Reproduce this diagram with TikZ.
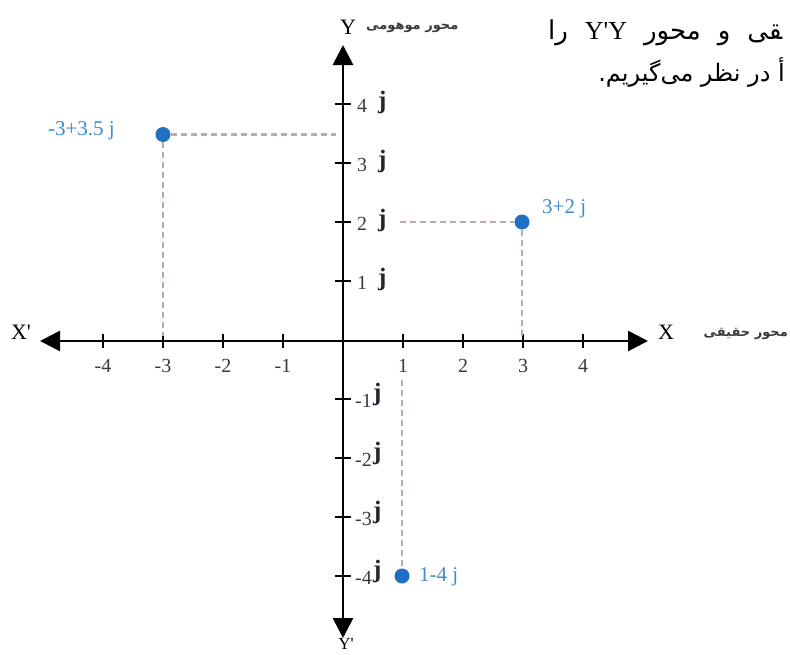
\documentclass[tikz,border=0pt]{standalone}
\usepackage{fontspec}
\setmainfont{Liberation Serif}
\newfontfamily\fa[Script=Arabic]{DejaVu Sans}
\TeXXeTstate=1
\usetikzlibrary{arrows.meta}
\definecolor{ptblue}{HTML}{1F6FC4}
\definecolor{lblue}{HTML}{3A8CD2}
\definecolor{guidec}{HTML}{B9ADA8}
\definecolor{numgray}{HTML}{3A3A3A}
\definecolor{jcol}{HTML}{2A2030}
\begin{document}
\begin{tikzpicture}[x=1pt,y=-1pt,
  axisline/.style={line width=2.8pt, {Triangle[length=20pt,width=20pt]}-{Triangle[length=20pt,width=20pt]}},
  tickmark/.style={line width=2pt},
  guide/.style={draw=guidec, line width=2.4pt, dash pattern=on 6pt off 4pt},
  dotc/.style={circle, fill=ptblue, minimum size=15pt, inner sep=0pt},
  ticklab/.style={font=\fontsize{20}{20}\selectfont, text=numgray, inner sep=0pt},
  jlab/.style={font=\bfseries\fontsize{25}{25}\selectfont, text=jcol, inner sep=0pt},
  ptlab/.style={font=\fontsize{21}{21}\selectfont, text=lblue, inner sep=0pt},
  axlab/.style={font=\fontsize{22}{22}\selectfont, inner sep=0pt},
  falab/.style={font=\fa\bfseries\fontsize{13}{14}\selectfont, text=numgray, inner sep=0pt},
  para/.style={font=\fa\fontsize{26}{26}\selectfont, inner sep=0pt, anchor=west}
]
\useasboundingbox (0,0) rectangle (790,654);

% axes
\coordinate (O) at (343,341);
\coordinate (xl) at (40,341);
\coordinate (xr) at (648,341);
\coordinate (yt) at (343,45);
\coordinate (yb) at (343,638);
\draw[axisline] (xl) -- (xr);
\draw[axisline] (yb) -- (yt);

% x ticks
\foreach \k in {-4,-3,-2,-1,1,2,3,4}{
  \draw[tickmark] ({343+60*\k},334) -- ({343+60*\k},348);
  \node[ticklab] (xt\k) at ({343+60*\k},366) {\k};
}
% y ticks
\foreach \k in {4,3,2,1}{
  \draw[tickmark] (335,{340-59*\k}) -- (351,{340-59*\k});
  \node[ticklab, anchor=west] (yn\k) at (357,{342-59*\k}) {\k};
  \node[jlab, anchor=west] (yj\k) at (378,{338-59*\k}) {j};
}
\foreach \k in {-1,-2,-3,-4}{
  \draw[tickmark] (335,{340-59*\k}) -- (351,{340-59*\k});
  \node[ticklab, anchor=west] (yn\k) at (355,{342-59*\k}) {\k};
}
\node[jlab, anchor=west] (yjm1) at (373,394) {j};
\node[jlab, anchor=west] (yjm2) at (373,453) {j};
\node[jlab, anchor=west] (yjm3) at (373,512) {j};
\node[jlab, anchor=west] (yjm4) at (373,571) {j};

% axis labels
\node[axlab] (Xp) at (21,332) {X\textquotesingle};
\node[axlab] (X) at (666,332) {X};
\node[falab, anchor=east] (real) at (788,334) {\beginR محور حقیقی\endR};
\node[axlab] (Y) at (348,27) {Y};
\node[falab, anchor=west] (imag) at (366,28) {\beginR محور موهومی\endR};
\node[axlab, font=\fontsize{17}{17}\selectfont] (Yp) at (346,644) {Y\textquotesingle};

% points
\node[dotc] (A) at (163,134.5) {};
\node[dotc] (B) at (522,222) {};
\node[dotc] (C) at (402,576) {};
\node[ptlab, anchor=east] (Al) at (115,131) {-3+3.5 j};
\node[ptlab, anchor=west] (Bl) at (542,209) {3+2 j};
\node[ptlab, anchor=west] (Cl) at (419,577) {1-4 j};

% guides
\coordinate (Ay) at (336,134.5);
\coordinate (Ax) at (163,336);
\coordinate (By) at (400,222);
\coordinate (Bx) at (522,336);
\coordinate (Cx) at (402,380);
\draw[guide] (A) -- (Ay);
\draw[guide] (A) -- (Ax);
\draw[guide] (By) -- (B);
\draw[guide] (B) -- (Bx);
\draw[guide] (Cx) -- (C);

% paragraph (visible part only)
\node[para] (p1) at (548,33) {\hbox to 234pt{\spaceskip=9pt plus 40pt\relax\beginR ^^^^200dقی و محور \beginL{\rmfamily Y\textquotesingle Y}\endL{} را\endR}};
\node[para, anchor=east, font=\fa\fontsize{24}{24}\selectfont] (p2) at (785,72) {\beginR أ در نظر می‌گیریم.\endR};
\end{tikzpicture}
\end{document}
